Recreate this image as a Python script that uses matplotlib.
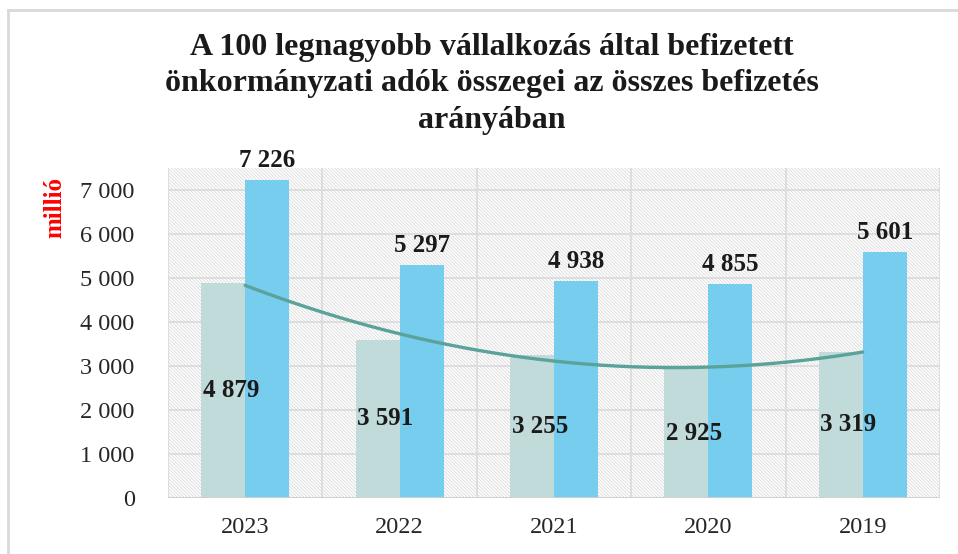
import matplotlib.pyplot as plt
import numpy as np
from matplotlib.lines import Line2D

years = ['2023', '2022', '2021', '2020', '2019']
top100 = [4879, 3591, 3255, 2925, 3319]
total = [7226, 5297, 4938, 4855, 5601]

title = ('A 100 legnagyobb vállalkozás által befizetett\n'
         'önkormányzati adók összegei az összes befizetés\n'
         'arányában')


def fmt(v):
    return f'{v:,.0f}'.replace(',', ' ')


plt.rcParams['font.family'] = ['Liberation Serif', 'DejaVu Serif']
plt.rcParams['hatch.linewidth'] = 0.6
plt.rcParams['hatch.color'] = '#dadada'

fig = plt.figure(figsize=(9.58, 5.54), dpi=100)
ax = fig.add_axes([168 / 958, 1 - 498 / 554, 772 / 958, 330 / 554])

# hatched plot area
ax.patch.set_facecolor('white')
ax.patch.set_hatch('\\' * 10)
ax.patch.set_edgecolor('#dadada')

x = np.arange(len(years))
w = 0.285

# grid: horizontal every 1000, vertical between categories
for yv in range(0, 8000, 1000):
    ax.axhline(yv, color='#dcdcdc', lw=1.3, zorder=1)
for xv in np.arange(-0.5, len(years), 1.0):
    ax.axvline(xv, color='#dcdcdc', lw=1.3, zorder=1)

ax.bar(x - w / 2, top100, w, color='#c1dada', zorder=2)
ax.bar(x + w / 2, total, w, color='#76cdee', zorder=2)

# polynomial trend line (order 2) on the first series
coef = np.polyfit(x, top100, 2)
xs = np.linspace(0, len(years) - 1, 200)
ax.plot(xs, np.polyval(coef, xs), color='#5ba29a', lw=2.4, zorder=3,
        solid_capstyle='round')

for i in range(len(years)):
    ax.text(x[i] - w / 2 + 0.05, top100[i] / 2, fmt(top100[i]), ha='center',
            va='center', fontsize=18, fontweight='bold', color='#1a1a1a',
            zorder=4)
    ax.text(x[i] + w / 2, total[i] + 180, fmt(total[i]), ha='center',
            va='bottom', fontsize=18, fontweight='bold', color='#1a1a1a',
            zorder=4)

ax.set_xlim(-0.5, len(years) - 0.5)
ax.set_ylim(0, 7500)
ax.set_xticks(x)
ax.set_xticklabels(years)
ax.set_yticks(range(0, 8000, 1000))
ax.set_yticklabels([fmt(v) for v in range(0, 8000, 1000)])
ax.tick_params(length=0, labelsize=17.5, colors='#262626')
ax.tick_params(axis='x', pad=14)
ax.tick_params(axis='y', pad=24)
for s in ax.spines.values():
    s.set_visible(False)
ax.axhline(0, color='#d0d0d0', lw=2, zorder=3)

fig.text(55 / 958, 1 - 208 / 554, 'millió', rotation=90, color='red',
         fontsize=18, fontweight='bold', ha='center', va='center')
fig.text(492 / 958, 1 - 84 / 554, title, ha='center', va='center',
         fontsize=23, fontweight='bold', color='#1a1a1a', linespacing=1.32)

# outer chart border
fig.add_artist(Line2D([8 / 958, 8 / 958], [0, 1 - 10 / 554],
                      transform=fig.transFigure, color='#d9d9d9', lw=2))
fig.add_artist(Line2D([8 / 958, 1], [1 - 10 / 554, 1 - 10 / 554],
                      transform=fig.transFigure, color='#d9d9d9', lw=2))

fig.savefig('out.png', dpi=100)
